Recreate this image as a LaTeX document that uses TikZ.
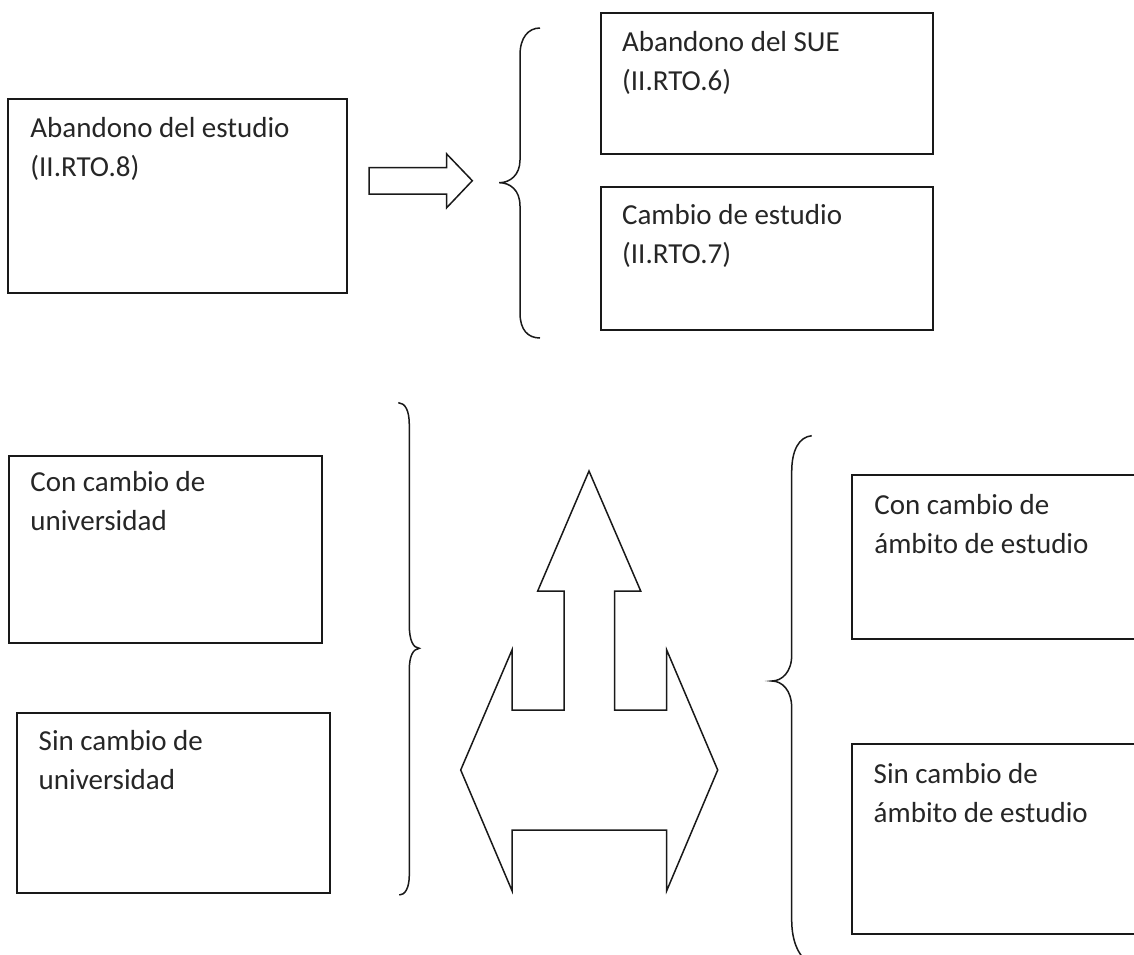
\documentclass[tikz,border=0pt]{standalone}
\usepackage{fontspec}
\setmainfont{Carlito}
\usetikzlibrary{calc}

\begin{document}
\begin{tikzpicture}
[x=0.5pt,y=-0.5pt,line join=miter,
 caja/.style={draw=black!90,line width=1pt,inner sep=0pt,outer sep=0pt,anchor=north west},
 texto/.style={anchor=base west,align=left,inner sep=0pt,text=black!85,font=\fontsize{14.5}{19.5}\selectfont},
 trazo/.style={draw=black!90,line width=0.75pt}]
\clip (0,0) rectangle (1134,954);

\node[caja] (1) at (8.3,99.3) [minimum width=169.5pt,minimum height=97pt] {};
\node[caja] (2) at (600.7,12.7) [minimum width=166.15pt,minimum height=70.65pt] {};
\node[caja] (3) at (600.7,187.3) [minimum width=166.15pt,minimum height=71.35pt] {};
\node[caja] (4) at (9,456) [minimum width=156.35pt,minimum height=93.65pt] {};
\node[caja] (5) at (17.3,713.3) [minimum width=156.35pt,minimum height=90pt] {};
\node[caja] (6) at (852.3,475) [minimum width=153.85pt,minimum height=82.15pt] {};
\node[caja] (7) at (852.3,744.3) [minimum width=153.85pt,minimum height=94.85pt] {};

% la segunda linea va 39 mas abajo
\node[texto] (t1) at ($(1.north west)+(21.7,77.4)$) {Abandono del estudio\\(II.RTO.8)};
\node[texto] (t2) at ($(2.north west)+(21,78)$) {Abandono del SUE\\(II.RTO.6)};
\node[texto] (t3) at ($(3.north west)+(21,75.7)$) {Cambio de estudio\\(II.RTO.7)};
\node[texto] (t4) at ($(4.north west)+(21,74.7)$) {Con cambio de\\universidad};
\node[texto] (t5) at ($(5.north west)+(21,75.7)$) {Sin cambio de\\universidad};
\node[texto] (t6) at ($(6.north west)+(21.7,78.3)$) {Con cambio de\\ámbito de estudio};
\node[texto] (t7) at ($(7.north west)+(21,78)$) {Sin cambio de\\ámbito de estudio};

% flecha de la derecha
\path[trazo] (369,167.7) -- (446.7,167.7) -- (446.7,154) -- (472.3,180.7)
  -- (446.7,207.7) -- (446.7,194) -- (369,194) -- cycle;

% flecha triple
\path[trazo] (589,471) -- (640.7,591) -- (614.7,591) -- (614.7,710) -- (666.7,710)
  -- (666.7,650) -- (717.7,770) -- (666.7,890.7) -- (666.7,830) -- (512,830)
  -- (512,890.7) -- (460.7,770) -- (512,650) -- (512,710) -- (564,710)
  -- (564,591) -- (537.7,591) -- cycle;

% llaves
\path[trazo] (540,28) .. controls (528,28) and (520,38) .. (520,55) -- (520,160)
  .. controls (520,175) and (510,182.7) .. (499.3,182.7)
  .. controls (510,182.7) and (520,190) .. (520,206) -- (520,313)
  .. controls (520,330) and (528,338) .. (540,338);
\path[trazo] (398.3,402.7) .. controls (405,403) and (409.3,410) .. (409.3,425) -- (409.3,625)
  .. controls (409.3,640) and (413,648) .. (419.3,648.3)
  .. controls (413,649) and (409.3,656) .. (409.3,670) -- (409.3,875)
  .. controls (409.3,888) and (405,895) .. (399.3,895);
\path[trazo] (811.7,435.7) .. controls (799,437) and (791.7,450) .. (791.7,472) -- (791.7,655)
  .. controls (791.7,672) and (782,681) .. (771.7,681)
  .. controls (782,681) and (791.7,690) .. (791.7,708) -- (791.7,920)
  .. controls (791.7,942) and (799,958) .. (812,965);
\end{tikzpicture}
\end{document}
